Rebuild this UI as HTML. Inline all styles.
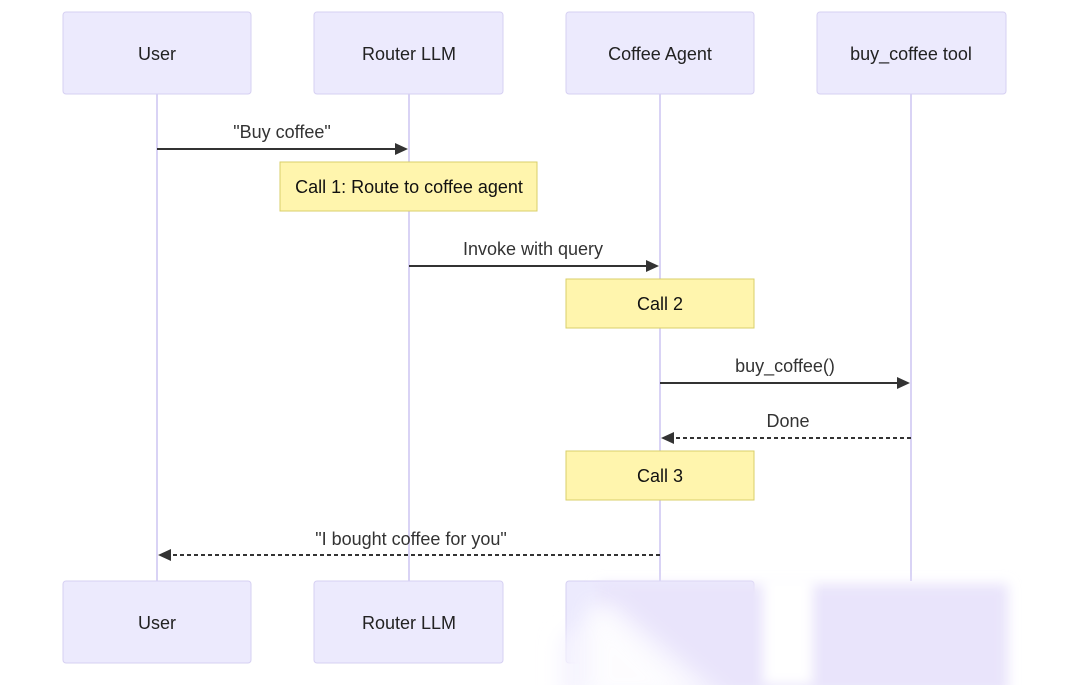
<!DOCTYPE html>
<html><head><meta charset="utf-8"><style>
html,body{margin:0;padding:0;background:#fff;width:1080px;height:685px;overflow:hidden}
text{font-family:"Liberation Sans","DejaVu Sans",sans-serif;}
</style></head><body>
<svg width="1080" height="685" viewBox="0 0 1080 685" xmlns="http://www.w3.org/2000/svg">
<defs>
<filter id="b" x="-20%" y="-20%" width="140%" height="140%"><feGaussianBlur stdDeviation="6"/></filter>
<filter id="b2" x="-20%" y="-20%" width="140%" height="140%"><feGaussianBlur stdDeviation="10"/></filter>
</defs>
<g stroke="#d9d3f5" stroke-width="2">
<line x1="157" y1="94" x2="157" y2="581"/>
<line x1="409" y1="94" x2="409" y2="581"/>
<line x1="660" y1="94" x2="660" y2="581"/>
<line x1="911" y1="94" x2="911" y2="581"/>
</g>
<g fill="#eceafd" stroke="#d6d0f2" stroke-width="1">
<rect x="63" y="12" width="188" height="82" rx="3"/>
<rect x="314" y="12" width="189" height="82" rx="3"/>
<rect x="566" y="12" width="188" height="82" rx="3"/>
<rect x="817" y="12" width="189" height="82" rx="3"/>
<rect x="63" y="581" width="188" height="82" rx="3"/>
<rect x="314" y="581" width="189" height="82" rx="3"/>
<rect x="566" y="581" width="188" height="82" rx="3"/>
</g>
<rect x="598" y="584" width="410" height="110" fill="#e9e4fb" filter="url(#b)"/>
<polygon points="560,640 610,600 730,700 560,700" fill="#f6f4fe" filter="url(#b2)"/>
<polygon points="590,600 700,700 590,700" fill="#ffffff" opacity="0.8" filter="url(#b2)"/>
<rect x="763" y="575" width="50" height="110" fill="#fff" filter="url(#b)"/>
<g font-size="18" fill="#222" text-anchor="middle">
<text x="157" y="60">User</text>
<text x="409" y="60">Router LLM</text>
<text x="660" y="60">Coffee Agent</text>
<text x="911" y="60">buy_coffee tool</text>
<text x="157" y="629">User</text>
<text x="409" y="629">Router LLM</text>
</g>
<g fill="#fff5ad" stroke="#d8cf6a" stroke-width="1">
<rect x="280" y="162" width="257" height="49"/>
<rect x="566" y="279" width="188" height="49"/>
<rect x="566" y="451" width="188" height="49"/>
</g>
<g font-size="18" fill="#111" text-anchor="middle">
<text x="409" y="193">Call 1: Route to coffee agent</text>
<text x="660" y="310">Call 2</text>
<text x="660" y="482">Call 3</text>
</g>
<g font-size="18" fill="#333" text-anchor="middle">
<text x="282" y="138">"Buy coffee"</text>
<text x="533" y="255">Invoke with query</text>
<text x="785" y="372">buy_coffee()</text>
<text x="788" y="427">Done</text>
<text x="411" y="545">"I bought coffee for you"</text>
</g>
<g stroke="#333" stroke-width="2" fill="none">
<line x1="157" y1="149" x2="398" y2="149"/>
<line x1="409" y1="266" x2="649" y2="266"/>
<line x1="660" y1="383" x2="900" y2="383"/>
<line x1="911" y1="438" x2="672" y2="438" stroke-dasharray="4,3"/>
<line x1="660" y1="555" x2="169" y2="555" stroke-dasharray="4,3"/>
</g>
<g fill="#333">
<polygon points="408,149 395,143 395,155"/>
<polygon points="659,266 646,260 646,272"/>
<polygon points="910,383 897,377 897,389"/>
<polygon points="661,438 674,432 674,444"/>
<polygon points="158,555 171,549 171,561"/>
</g>
</svg>
</body></html>
